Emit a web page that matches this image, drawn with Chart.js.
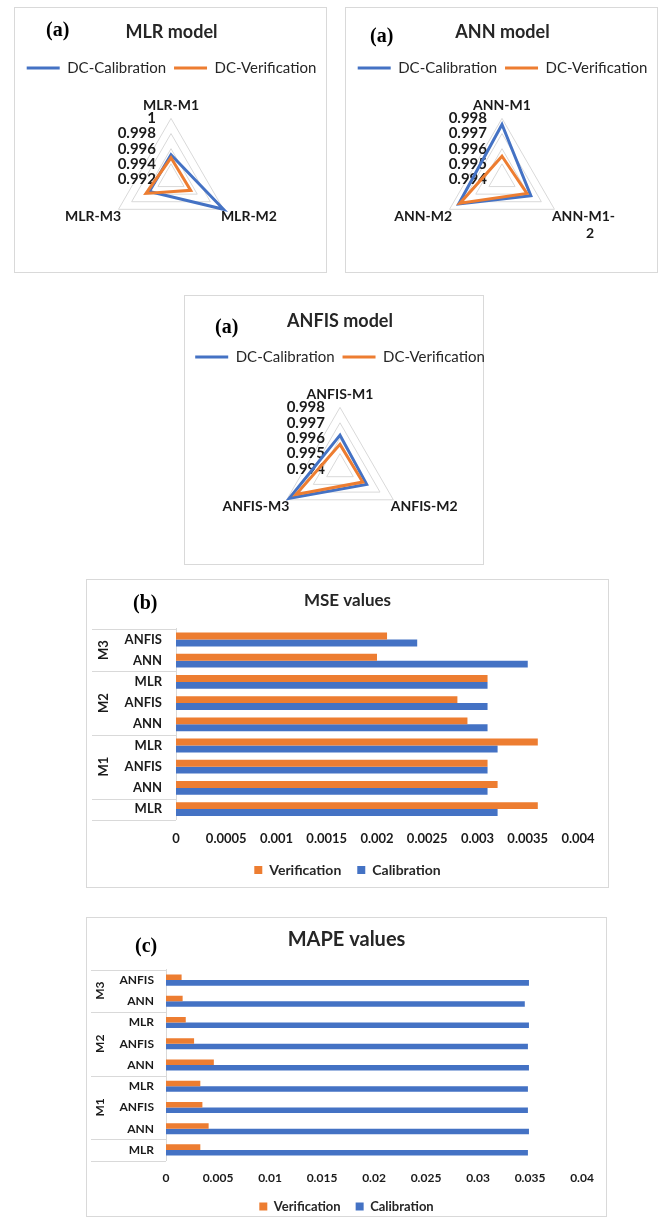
<!DOCTYPE html>
<html><head><meta charset="utf-8">
<script src="https://cdn.jsdelivr.net/npm/chart.js@4.4.1/dist/chart.umd.min.js"></script>
<style>
html,body{margin:0;padding:0;background:#fff;}
body{width:660px;height:1219px;position:relative;overflow:hidden;}
.panel{position:absolute;box-sizing:border-box;border:1px solid #d9d9d9;background:#fff;overflow:visible;}
.panel canvas{position:absolute;left:0;top:0;}
.tag{position:absolute;font-family:'Liberation Serif','Times New Roman',serif;font-weight:bold;font-size:20px;line-height:20px;height:20px;color:#000;white-space:nowrap;}
</style></head><body>

<div class="panel" style="left:14px;top:7px;width:313px;height:266px"><canvas id="cMLR" width="311" height="264"></canvas></div>
<div class="panel" style="left:345px;top:7px;width:313px;height:266px"><canvas id="cANN" width="311" height="264"></canvas></div>
<div class="panel" style="left:184px;top:295px;width:300px;height:270px"><canvas id="cANFIS" width="330" height="268" style="left:-16px"></canvas></div>
<div class="panel" style="left:86px;top:579px;width:523px;height:309px"><canvas id="cMSE" width="521" height="307"></canvas></div>
<div class="panel" style="left:86px;top:917px;width:521px;height:300px"><canvas id="cMAPE" width="519" height="305"></canvas></div>

<div class="tag" style="left:46px;top:19px">(a)</div>
<div class="tag" style="left:370px;top:25px">(a)</div>
<div class="tag" style="left:215px;top:316px">(a)</div>
<div class="tag" style="left:133px;top:592px">(b)</div>
<div class="tag" style="left:135px;top:935px">(c)</div>

<script>
// ---------------- DATA ----------------
const radarSeries = ['DC-Calibration', 'DC-Verification'];

const mlrLabels = ['MLR-M1', 'MLR-M2', 'MLR-M3'];
const mlrCal = [0.9952, 1.0, 0.9953];
const mlrVer = [0.9948, 0.9950, 0.9958];
const mlrTicks = ['0.992', '0.994', '0.996', '0.998', '1'];

const annLabels = ['ANN-M1', ['ANN-M1-', '          2'], 'ANN-M2'];
const annCal = [0.9976, 0.9962, 0.9973];
const annVer = [0.9955, 0.9959, 0.9972];
const annTicks = ['0.994', '0.995', '0.996', '0.997', '0.998'];

const anfisLabels = ['ANFIS-M1', 'ANFIS-M2', 'ANFIS-M3'];
const anfisCal = [0.9962, 0.9960, 0.9978];
const anfisVer = [0.9956, 0.9957, 0.9973];
const anfisTicks = ['0.994', '0.995', '0.996', '0.997', '0.998'];

const barSeries = ['Verification', 'Calibration'];
// categories listed top to bottom
const barCategories = ['ANFIS', 'ANN', 'MLR', 'ANFIS', 'ANN', 'MLR', 'ANFIS', 'ANN', 'MLR'];
const barGroups     = ['M3', 'M3', 'M2', 'M2', 'M2', 'M1', 'M1', 'M1', ''];

const mseVer = [0.0021, 0.0020, 0.0031, 0.0028, 0.0029, 0.0036, 0.0031, 0.0032, 0.0036];
const mseCal = [0.0024, 0.0035, 0.0031, 0.0031, 0.0031, 0.0032, 0.0031, 0.0031, 0.0032];
const mseTicks = ['0', '0.0005', '0.001', '0.0015', '0.002', '0.0025', '0.003', '0.0035', '0.004'];

const mapeVer = [0.0015, 0.0016, 0.0019, 0.0027, 0.0046, 0.0033, 0.0035, 0.0041, 0.0033];
const mapeCal = [0.0349, 0.0345, 0.0349, 0.0348, 0.0349, 0.0348, 0.0348, 0.0349, 0.0348];
const mapeTicks = ['0', '0.005', '0.01', '0.015', '0.02', '0.025', '0.03', '0.035', '0.04'];

// ---------------- STYLE ----------------
const BLUE = '#4472C4', ORANGE = '#ED7D31';
const FONT = "Lato, 'Liberation Sans', sans-serif";
const TXT = '#1a1a1a';

// tick labels drawn to the left of the vertical spoke (Excel style)
const radarTickPlugin = {
  id: 'radarTicks',
  beforeDatasetsDraw(chart, args, o) {
    const r = chart.scales.r, ctx = chart.ctx;
    ctx.save();
    ctx.font = o.font; ctx.fillStyle = o.color;
    ctx.textAlign = 'right'; ctx.textBaseline = 'middle';
    o.labels.forEach(l => {
      const d = r.getDistanceFromCenterForValue(Number(l));
      ctx.fillText(l, r.xCenter - o.offset, r.yCenter - d);
    });
    ctx.restore();
  }
};

// grouped (two-level) category labels with table lines
const hierPlugin = {
  id: 'hier',
  afterDraw(chart, args, o) {
    const ys = chart.scales.y, ctx = chart.ctx, g = o.groups;
    const step = ys.getPixelForValue(1) - ys.getPixelForValue(0);
    const runs = []; let s = 0;
    for (let i = 1; i <= g.length; i++) {
      if (i === g.length || g[i] !== g[s]) { runs.push([s, i - 1]); s = i; }
    }
    const x1 = chart.chartArea.left;
    ctx.save();
    ctx.strokeStyle = '#d9d9d9'; ctx.lineWidth = 1;
    const line = y => { const yy = Math.round(y) + 0.5; ctx.beginPath(); ctx.moveTo(o.lineLeft, yy); ctx.lineTo(x1, yy); ctx.stroke(); };
    runs.forEach(([a, b]) => {
      const top = ys.getPixelForValue(a) - step / 2;
      const bot = ys.getPixelForValue(b) + step / 2;
      line(top); line(bot);
      if (g[a]) {
        ctx.save();
        ctx.translate(o.labelX, (top + bot) / 2);
        ctx.rotate(-Math.PI / 2);
        ctx.font = o.font; ctx.fillStyle = o.color;
        ctx.textAlign = 'center'; ctx.textBaseline = 'middle';
        ctx.fillText(g[a], 0, 0);
        ctx.restore();
      }
    });
    ctx.restore();
  }
};

function radarConfig(title, labels, cal, ver, ticks, lay) {
  const min = Number(ticks[0]), max = Number(ticks[ticks.length - 1]);
  const step = Math.round((Number(ticks[1]) - min) * 1e6) / 1e6;
  return {
    type: 'radar',
    data: {
      labels: labels,
      datasets: [
        { label: radarSeries[0], data: cal, borderColor: BLUE, backgroundColor: BLUE, borderWidth: 3,
          pointRadius: 0, fill: false, order: 1, borderJoinStyle: 'miter', tension: 0 },
        { label: radarSeries[1], data: ver, borderColor: ORANGE, backgroundColor: ORANGE, borderWidth: 3,
          pointRadius: 0, fill: false, order: 0, borderJoinStyle: 'miter', tension: 0 }
      ]
    },
    options: {
      responsive: false, animation: false, events: [],
      layout: { padding: lay.padding },
      plugins: {
        title: { display: true, text: title, color: '#262626',
          font: { family: FONT, size: 18, weight: 'bold' }, padding: { top: lay.tpt, bottom: lay.tpb } },
        legend: { position: 'top',
          labels: { usePointStyle: true, pointStyle: 'line', pointStyleWidth: 33, padding: 8,
            color: '#262626', font: { family: FONT, size: 15 },
            sort: (a, b) => a.datasetIndex - b.datasetIndex } },
        tooltip: { enabled: false },
        radarTicks: { labels: ticks, offset: 15, font: 'bold 15px ' + FONT, color: TXT }
      },
      scales: {
        r: {
          min: min, max: max,
          ticks: { display: false, stepSize: step },
          grid: { color: '#d9d9d9', lineWidth: 1 },
          angleLines: { display: false },
          pointLabels: { color: TXT, font: { family: FONT, size: 14, weight: 'bold' },
            padding: (ctx) => ctx.index === 0 ? 5 : -3 }
        }
      }
    },
    plugins: [radarTickPlugin]
  };
}

function barConfig(p) {
  const tickFont = { family: FONT, size: p.tickSize, weight: 'bold' };
  return {
    type: 'bar',
    data: {
      labels: barCategories,
      datasets: [
        { label: barSeries[0], data: p.ver, backgroundColor: ORANGE, xAxisID: 'x', yAxisID: 'y',
          categoryPercentage: p.catPct, barPercentage: 1 },
        { label: barSeries[1], data: p.cal, backgroundColor: BLUE, xAxisID: 'x', yAxisID: 'y',
          categoryPercentage: p.catPct, barPercentage: 1 }
      ]
    },
    options: {
      indexAxis: 'y', responsive: false, animation: false, events: [],
      layout: { padding: 0 },
      plugins: {
        title: { display: true, text: p.title, color: '#262626',
          font: { family: FONT, size: p.titleSize, weight: 'bold' }, padding: { top: p.tpt, bottom: p.tpb } },
        legend: { position: 'bottom',
          labels: { boxWidth: 8, boxHeight: 8, padding: p.legPad, color: '#262626',
            font: { family: FONT, size: p.legSize, weight: 'bold' } } },
        tooltip: { enabled: false },
        hier: { groups: barGroups, labelX: p.groupX, lineLeft: p.lineLeft,
          font: 'bold ' + p.catSize + 'px ' + FONT, color: TXT }
      },
      scales: {
        x: {
          type: 'linear', min: 0, max: Number(p.ticks[p.ticks.length - 1]),
          grid: { display: false, drawTicks: false }, border: { display: false },
          ticks: { stepSize: Number(p.ticks[1]), autoSkip: false, maxRotation: 0, padding: p.xPad,
            color: TXT, font: tickFont,
            callback: (v) => { const l = p.ticks.find(t => Math.abs(Number(t) - v) < 1e-9); return l === undefined ? '' : l; } },
          afterFit: (s) => { s.height = p.xH; }
        },
        y: {
          type: 'category',
          grid: { display: false, drawTicks: false },
          border: { display: true, color: '#d9d9d9' },
          ticks: { autoSkip: false, padding: p.yPad, color: TXT,
            font: { family: FONT, size: p.catSize, weight: 'bold' } },
          afterFit: (s) => { s.width = p.yW; }
        },
        pad: {
          type: 'linear', position: 'right', display: true,
          grid: { display: false, drawTicks: false }, border: { display: false },
          ticks: { display: false },
          afterFit: (s) => { s.width = p.padR; }
        }
      }
    },
    plugins: [hierPlugin]
  };
}

new Chart(document.getElementById('cMLR'),
  radarConfig('MLR model', mlrLabels, mlrCal, mlrVer, mlrTicks, { padding: { left: 2, bottom: 20 }, tpt: 13, tpb: 10 }));
new Chart(document.getElementById('cANN'),
  radarConfig('ANN model', annLabels, annCal, annVer, annTicks, { padding: { left: 2, bottom: 20 }, tpt: 13, tpb: 10 }));
new Chart(document.getElementById('cANFIS'),
  radarConfig('ANFIS model', anfisLabels, anfisCal, anfisVer, anfisTicks, { padding: { left: 12, bottom: 21 }, tpt: 14, tpb: 10 }));

new Chart(document.getElementById('cMSE'), barConfig({
  title: 'MSE values', titleSize: 17, tpt: 10, tpb: 18.5,
  ver: mseVer, cal: mseCal, ticks: mseTicks,
  catPct: 0.65, tickSize: 13, catSize: 13, legSize: 14, legPad: 16,
  xPad: 11, xH: 27.3, yPad: 14, yW: 89, padR: 30, groupX: 17, lineLeft: 5
}));
new Chart(document.getElementById('cMAPE'), barConfig({
  title: 'MAPE values', titleSize: 20, tpt: 10, tpb: 17.5,
  ver: mapeVer, cal: mapeCal, ticks: mapeTicks,
  catPct: 0.52, tickSize: 12, catSize: 12, legSize: 13, legPad: 15,
  xPad: 10, xH: 24.5, yPad: 12, yW: 79, padR: 24, groupX: 13, lineLeft: 4
}));
</script>
</body></html>
